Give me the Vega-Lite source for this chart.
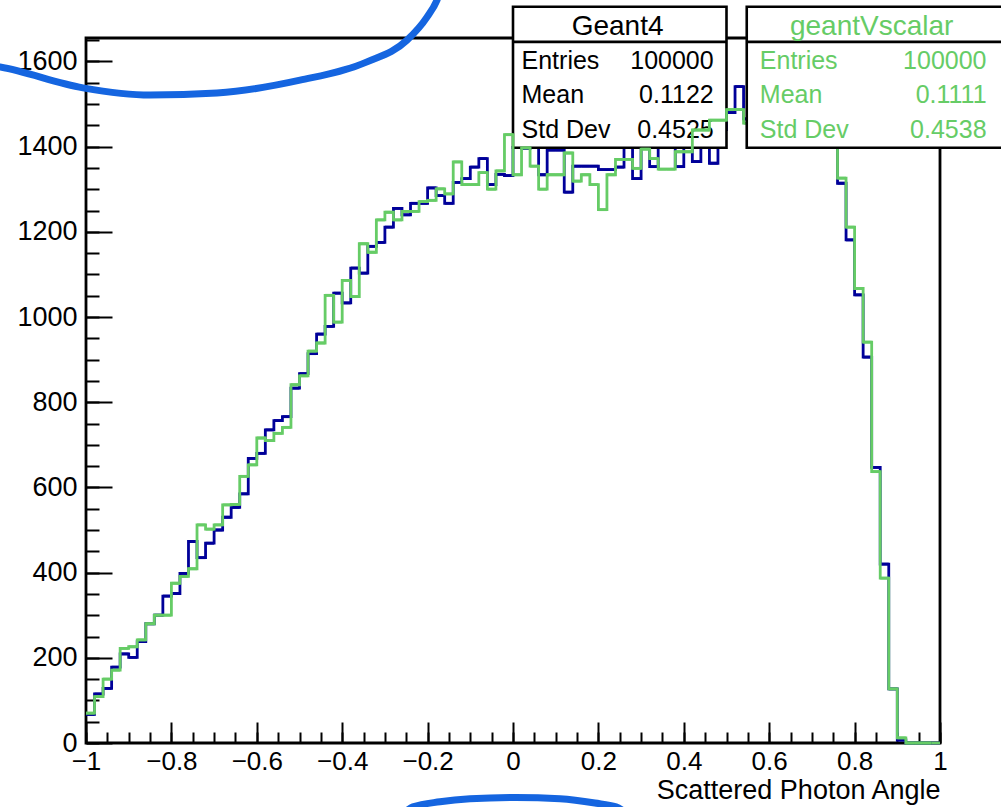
{
  "$schema": "https://vega.github.io/schema/vega-lite/v6.json",
  "autosize": {"type": "none"},
  "width": 854,
  "height": 705,
  "padding": {"left": 86, "top": 38, "right": 61, "bottom": 64},
  "background": "white",
  "config": {
    "view": {"stroke": "#000000", "strokeWidth": 2.8},
    "axis": {
      "domain": false, "grid": false, "tickColor": "#000000", "tickWidth": 2, "ticks": true,
      "labelFont": "Liberation Sans", "labelFontSize": 26, "labelColor": "#000000",
      "labelFlush": false, "labelOverlap": false,
      "titleFont": "Liberation Sans", "titleFontSize": 27, "titleFontWeight": "normal", "titleColor": "#000000"
    },
    "text": {"font": "Liberation Sans"}
  },
  "datasets": {
    "hist": [
      {"lo": -1.00, "hi": -0.98, "geant4": 67, "vscalar": 70},
      {"lo": -0.98, "hi": -0.96, "geant4": 115, "vscalar": 109},
      {"lo": -0.96, "hi": -0.94, "geant4": 128, "vscalar": 150},
      {"lo": -0.94, "hi": -0.92, "geant4": 178, "vscalar": 171},
      {"lo": -0.92, "hi": -0.90, "geant4": 209, "vscalar": 222},
      {"lo": -0.90, "hi": -0.88, "geant4": 201, "vscalar": 226},
      {"lo": -0.88, "hi": -0.86, "geant4": 238, "vscalar": 242},
      {"lo": -0.86, "hi": -0.84, "geant4": 280, "vscalar": 280},
      {"lo": -0.84, "hi": -0.82, "geant4": 300, "vscalar": 300},
      {"lo": -0.82, "hi": -0.80, "geant4": 345, "vscalar": 300},
      {"lo": -0.80, "hi": -0.78, "geant4": 351, "vscalar": 375},
      {"lo": -0.78, "hi": -0.76, "geant4": 398, "vscalar": 391},
      {"lo": -0.76, "hi": -0.74, "geant4": 473, "vscalar": 409},
      {"lo": -0.74, "hi": -0.72, "geant4": 435, "vscalar": 512},
      {"lo": -0.72, "hi": -0.70, "geant4": 469, "vscalar": 502},
      {"lo": -0.70, "hi": -0.68, "geant4": 500, "vscalar": 512},
      {"lo": -0.68, "hi": -0.66, "geant4": 530, "vscalar": 559},
      {"lo": -0.66, "hi": -0.64, "geant4": 553, "vscalar": 560},
      {"lo": -0.64, "hi": -0.62, "geant4": 585, "vscalar": 626},
      {"lo": -0.62, "hi": -0.60, "geant4": 668, "vscalar": 653},
      {"lo": -0.60, "hi": -0.58, "geant4": 680, "vscalar": 716},
      {"lo": -0.58, "hi": -0.56, "geant4": 735, "vscalar": 710},
      {"lo": -0.56, "hi": -0.54, "geant4": 757, "vscalar": 727},
      {"lo": -0.54, "hi": -0.52, "geant4": 766, "vscalar": 741},
      {"lo": -0.52, "hi": -0.50, "geant4": 833, "vscalar": 841},
      {"lo": -0.50, "hi": -0.48, "geant4": 867, "vscalar": 862},
      {"lo": -0.48, "hi": -0.46, "geant4": 914, "vscalar": 920},
      {"lo": -0.46, "hi": -0.44, "geant4": 960, "vscalar": 939},
      {"lo": -0.44, "hi": -0.42, "geant4": 978, "vscalar": 1051},
      {"lo": -0.42, "hi": -0.40, "geant4": 1056, "vscalar": 988},
      {"lo": -0.40, "hi": -0.38, "geant4": 1033, "vscalar": 1086},
      {"lo": -0.38, "hi": -0.36, "geant4": 1115, "vscalar": 1048},
      {"lo": -0.36, "hi": -0.34, "geant4": 1103, "vscalar": 1172},
      {"lo": -0.34, "hi": -0.32, "geant4": 1166, "vscalar": 1152},
      {"lo": -0.32, "hi": -0.30, "geant4": 1175, "vscalar": 1228},
      {"lo": -0.30, "hi": -0.28, "geant4": 1211, "vscalar": 1246},
      {"lo": -0.28, "hi": -0.26, "geant4": 1255, "vscalar": 1228},
      {"lo": -0.26, "hi": -0.24, "geant4": 1240, "vscalar": 1248},
      {"lo": -0.24, "hi": -0.22, "geant4": 1267, "vscalar": 1248},
      {"lo": -0.22, "hi": -0.20, "geant4": 1267, "vscalar": 1271},
      {"lo": -0.20, "hi": -0.18, "geant4": 1303, "vscalar": 1274},
      {"lo": -0.18, "hi": -0.16, "geant4": 1285, "vscalar": 1301},
      {"lo": -0.16, "hi": -0.14, "geant4": 1267, "vscalar": 1289},
      {"lo": -0.14, "hi": -0.12, "geant4": 1316, "vscalar": 1364},
      {"lo": -0.12, "hi": -0.10, "geant4": 1325, "vscalar": 1311},
      {"lo": -0.10, "hi": -0.08, "geant4": 1352, "vscalar": 1311},
      {"lo": -0.08, "hi": -0.06, "geant4": 1372, "vscalar": 1339},
      {"lo": -0.06, "hi": -0.04, "geant4": 1311, "vscalar": 1300},
      {"lo": -0.04, "hi": -0.02, "geant4": 1335, "vscalar": 1343},
      {"lo": -0.02, "hi": 0.00, "geant4": 1332, "vscalar": 1428},
      {"lo": 0.00, "hi": 0.02, "geant4": 1398, "vscalar": 1334},
      {"lo": 0.02, "hi": 0.04, "geant4": 1396, "vscalar": 1397},
      {"lo": 0.04, "hi": 0.06, "geant4": 1398, "vscalar": 1354},
      {"lo": 0.06, "hi": 0.08, "geant4": 1334, "vscalar": 1300},
      {"lo": 0.08, "hi": 0.10, "geant4": 1392, "vscalar": 1334},
      {"lo": 0.10, "hi": 0.12, "geant4": 1392, "vscalar": 1334},
      {"lo": 0.12, "hi": 0.14, "geant4": 1293, "vscalar": 1385},
      {"lo": 0.14, "hi": 0.16, "geant4": 1354, "vscalar": 1319},
      {"lo": 0.16, "hi": 0.18, "geant4": 1354, "vscalar": 1334},
      {"lo": 0.18, "hi": 0.20, "geant4": 1354, "vscalar": 1311},
      {"lo": 0.20, "hi": 0.22, "geant4": 1346, "vscalar": 1252},
      {"lo": 0.22, "hi": 0.24, "geant4": 1346, "vscalar": 1334},
      {"lo": 0.24, "hi": 0.26, "geant4": 1352, "vscalar": 1370},
      {"lo": 0.26, "hi": 0.28, "geant4": 1405, "vscalar": 1370},
      {"lo": 0.28, "hi": 0.30, "geant4": 1325, "vscalar": 1349},
      {"lo": 0.30, "hi": 0.32, "geant4": 1410, "vscalar": 1394},
      {"lo": 0.32, "hi": 0.34, "geant4": 1353, "vscalar": 1372},
      {"lo": 0.34, "hi": 0.36, "geant4": 1402, "vscalar": 1347},
      {"lo": 0.36, "hi": 0.38, "geant4": 1405, "vscalar": 1347},
      {"lo": 0.38, "hi": 0.40, "geant4": 1353, "vscalar": 1388},
      {"lo": 0.40, "hi": 0.42, "geant4": 1420, "vscalar": 1388},
      {"lo": 0.42, "hi": 0.44, "geant4": 1365, "vscalar": 1439},
      {"lo": 0.44, "hi": 0.46, "geant4": 1430, "vscalar": 1439},
      {"lo": 0.46, "hi": 0.48, "geant4": 1361, "vscalar": 1462},
      {"lo": 0.48, "hi": 0.50, "geant4": 1440, "vscalar": 1462},
      {"lo": 0.50, "hi": 0.52, "geant4": 1480, "vscalar": 1487},
      {"lo": 0.52, "hi": 0.54, "geant4": 1541, "vscalar": 1487},
      {"lo": 0.54, "hi": 0.56, "geant4": 1465, "vscalar": 1455},
      {"lo": 0.56, "hi": 0.58, "geant4": 1490, "vscalar": 1500},
      {"lo": 0.58, "hi": 0.60, "geant4": 1510, "vscalar": 1505},
      {"lo": 0.60, "hi": 0.62, "geant4": 1530, "vscalar": 1525},
      {"lo": 0.62, "hi": 0.64, "geant4": 1545, "vscalar": 1550},
      {"lo": 0.64, "hi": 0.66, "geant4": 1560, "vscalar": 1555},
      {"lo": 0.66, "hi": 0.68, "geant4": 1575, "vscalar": 1560},
      {"lo": 0.68, "hi": 0.70, "geant4": 1570, "vscalar": 1565},
      {"lo": 0.70, "hi": 0.72, "geant4": 1540, "vscalar": 1535},
      {"lo": 0.72, "hi": 0.74, "geant4": 1500, "vscalar": 1490},
      {"lo": 0.74, "hi": 0.76, "geant4": 1440, "vscalar": 1430},
      {"lo": 0.76, "hi": 0.78, "geant4": 1314, "vscalar": 1326},
      {"lo": 0.78, "hi": 0.80, "geant4": 1181, "vscalar": 1211},
      {"lo": 0.80, "hi": 0.82, "geant4": 1052, "vscalar": 1067},
      {"lo": 0.82, "hi": 0.84, "geant4": 906, "vscalar": 941},
      {"lo": 0.84, "hi": 0.86, "geant4": 647, "vscalar": 637},
      {"lo": 0.86, "hi": 0.88, "geant4": 420, "vscalar": 387},
      {"lo": 0.88, "hi": 0.90, "geant4": 127, "vscalar": 127},
      {"lo": 0.90, "hi": 0.92, "geant4": 7, "vscalar": 12},
      {"lo": 0.92, "hi": 0.94, "geant4": 0, "vscalar": 0},
      {"lo": 0.94, "hi": 0.96, "geant4": 0, "vscalar": 0},
      {"lo": 0.96, "hi": 0.98, "geant4": 0, "vscalar": 0},
      {"lo": 0.98, "hi": 1.00, "geant4": 0, "vscalar": 0}
    ],
    "stats": [
      {"hist": "Geant4", "stat": "Entries", "value": "100000"},
      {"hist": "Geant4", "stat": "Mean", "value": "0.1122"},
      {"hist": "Geant4", "stat": "Std Dev", "value": "0.4525"},
      {"hist": "geantVscalar", "stat": "Entries", "value": "100000"},
      {"hist": "geantVscalar", "stat": "Mean", "value": "0.1111"},
      {"hist": "geantVscalar", "stat": "Std Dev", "value": "0.4538"}
    ],
    "ink": [
      {"stroke": "top", "x": -1.2131, "y": 1589},
      {"stroke": "top", "x": -1.2014, "y": 1587},
      {"stroke": "top", "x": -1.0070, "y": 1538},
      {"stroke": "top", "x": -0.8501, "y": 1521},
      {"stroke": "top", "x": -0.6932, "y": 1526},
      {"stroke": "top", "x": -0.4988, "y": 1556},
      {"stroke": "top", "x": -0.3419, "y": 1599},
      {"stroke": "top", "x": -0.2482, "y": 1650},
      {"stroke": "top", "x": -0.2014, "y": 1704},
      {"stroke": "top", "x": -0.1780, "y": 1744},
      {"stroke": "top", "x": -0.1710, "y": 1763},
      {"stroke": "bottom", "x": -0.2529, "y": -162},
      {"stroke": "bottom", "x": -0.2342, "y": -150},
      {"stroke": "bottom", "x": -0.1710, "y": -138},
      {"stroke": "bottom", "x": -0.1007, "y": -131},
      {"stroke": "bottom", "x": 0.0070, "y": -128},
      {"stroke": "bottom", "x": 0.1101, "y": -131},
      {"stroke": "bottom", "x": 0.1920, "y": -141},
      {"stroke": "bottom", "x": 0.2412, "y": -150},
      {"stroke": "bottom", "x": 0.2623, "y": -162}
    ]
  },
  "resolve": {"axis": {"x": "independent", "y": "independent"}},
  "layer": [
    {
      "data": {"name": "hist"},
      "mark": {"type": "line", "interpolate": "step-after", "color": "#000099", "strokeWidth": 2.8},
      "encoding": {
        "x": {"field": "lo", "type": "quantitative",
          "scale": {"domain": [-1, 1], "nice": false, "zero": false},
          "axis": {"orient": "bottom", "values": [-1, -0.8, -0.6, -0.4, -0.2, 0, 0.2, 0.4, 0.6, 0.8, 1],
            "format": "~g", "offset": -21, "tickSize": 21, "labelPadding": 5, "title": "Scattered Photon Angle",
            "titleAnchor": "end", "titlePadding": 3}},
        "y": {"field": "geant4", "type": "quantitative",
          "scale": {"domain": [0, 1655], "nice": false, "zero": false},
          "axis": {"orient": "left", "values": [0, 200, 400, 600, 800, 1000, 1200, 1400, 1600],
            "format": "d", "offset": -26, "tickSize": 26, "labelPadding": 9, "labelFontSize": 27, "title": null}}
      }
    },
    {
      "data": {"name": "hist"},
      "mark": {"type": "rule", "color": "#000099", "strokeWidth": 2.8},
      "encoding": {
        "x": {"field": "lo", "type": "quantitative",
          "axis": {"orient": "bottom", "values": [-1, -0.95, -0.9, -0.85, -0.8, -0.75, -0.7, -0.65, -0.6, -0.55, -0.5, -0.45, -0.4, -0.35, -0.3, -0.25, -0.2, -0.15, -0.1, -0.05, 0, 0.05, 0.1, 0.15, 0.2, 0.25, 0.3, 0.35, 0.4, 0.45, 0.5, 0.55, 0.6, 0.65, 0.7, 0.75, 0.8, 0.85, 0.9, 0.95, 1],
            "offset": -11, "tickSize": 11, "labels": false, "title": null}},
        "x2": {"field": "hi"},
        "y": {"field": "geant4", "type": "quantitative",
          "axis": {"orient": "left", "values": [0, 50, 100, 150, 200, 250, 300, 350, 400, 450, 500, 550, 600, 650, 700, 750, 800, 850, 900, 950, 1000, 1050, 1100, 1150, 1200, 1250, 1300, 1350, 1400, 1450, 1500, 1550, 1600, 1650],
            "offset": -13, "tickSize": 13, "labels": false, "title": null}}
      }
    },
    {
      "data": {"name": "stats"},
      "transform": [{"filter": "datum.hist === 'Geant4' && datum.stat === 'Entries'"}],
      "mark": {"type": "rect", "fill": "white", "stroke": "#000000", "strokeWidth": 2.6},
      "encoding": {
        "x": {"datum": 0, "axis": null}, "x2": {"datum": 0.5},
        "y": {"datum": 1397.5, "axis": null}, "y2": {"datum": 1728.5}
      }
    },
    {
      "data": {"name": "stats"},
      "transform": [{"filter": "datum.hist === 'Geant4' && datum.stat === 'Entries'"}],
      "mark": {"type": "rule", "color": "#000000", "strokeWidth": 2.6},
      "encoding": {
        "x": {"datum": 0, "axis": null}, "x2": {"datum": 0.5},
        "y": {"datum": 1646, "axis": null}
      }
    },
    {
      "data": {"name": "stats"},
      "transform": [{"filter": "datum.hist === 'Geant4' && datum.stat === 'Entries'"}],
      "mark": {"type": "text", "fontSize": 28, "align": "center", "baseline": "middle", "color": "#000000"},
      "encoding": {"x": {"datum": 0.245, "axis": null}, "y": {"datum": 1681, "axis": null}, "text": {"field": "hist"}}
    },
    {
      "data": {"name": "stats"},
      "transform": [{"filter": "datum.hist === 'Geant4' && datum.stat === 'Entries'"}],
      "mark": {"type": "text", "fontSize": 25, "align": "left", "baseline": "middle", "color": "#000000"},
      "encoding": {"x": {"datum": 0.02, "axis": null}, "y": {"datum": 1602, "axis": null}, "text": {"field": "stat"}}
    },
    {
      "data": {"name": "stats"},
      "transform": [{"filter": "datum.hist === 'Geant4' && datum.stat === 'Entries'"}],
      "mark": {"type": "text", "fontSize": 25, "align": "right", "baseline": "middle", "color": "#000000"},
      "encoding": {"x": {"datum": 0.47, "axis": null}, "y": {"datum": 1602, "axis": null}, "text": {"field": "value"}}
    },
    {
      "data": {"name": "stats"},
      "transform": [{"filter": "datum.hist === 'Geant4' && datum.stat === 'Mean'"}],
      "mark": {"type": "text", "fontSize": 25, "align": "left", "baseline": "middle", "color": "#000000"},
      "encoding": {"x": {"datum": 0.02, "axis": null}, "y": {"datum": 1521, "axis": null}, "text": {"field": "stat"}}
    },
    {
      "data": {"name": "stats"},
      "transform": [{"filter": "datum.hist === 'Geant4' && datum.stat === 'Mean'"}],
      "mark": {"type": "text", "fontSize": 25, "align": "right", "baseline": "middle", "color": "#000000"},
      "encoding": {"x": {"datum": 0.47, "axis": null}, "y": {"datum": 1521, "axis": null}, "text": {"field": "value"}}
    },
    {
      "data": {"name": "stats"},
      "transform": [{"filter": "datum.hist === 'Geant4' && datum.stat === 'Std Dev'"}],
      "mark": {"type": "text", "fontSize": 25, "align": "left", "baseline": "middle", "color": "#000000"},
      "encoding": {"x": {"datum": 0.02, "axis": null}, "y": {"datum": 1438, "axis": null}, "text": {"field": "stat"}}
    },
    {
      "data": {"name": "stats"},
      "transform": [{"filter": "datum.hist === 'Geant4' && datum.stat === 'Std Dev'"}],
      "mark": {"type": "text", "fontSize": 25, "align": "right", "baseline": "middle", "color": "#000000"},
      "encoding": {"x": {"datum": 0.47, "axis": null}, "y": {"datum": 1438, "axis": null}, "text": {"field": "value"}}
    },
    {
      "data": {"name": "hist"},
      "mark": {"type": "line", "interpolate": "step-after", "color": "#66cc66", "strokeWidth": 2.8},
      "encoding": {
        "x": {"field": "lo", "type": "quantitative", "axis": null},
        "y": {"field": "vscalar", "type": "quantitative", "axis": null}
      }
    },
    {
      "data": {"name": "hist"},
      "mark": {"type": "rule", "color": "#66cc66", "strokeWidth": 2.8},
      "encoding": {
        "x": {"field": "lo", "type": "quantitative", "axis": null},
        "x2": {"field": "hi"},
        "y": {"field": "vscalar", "type": "quantitative", "axis": null}
      }
    },
    {
      "data": {"name": "stats"},
      "transform": [{"filter": "datum.hist === 'geantVscalar' && datum.stat === 'Entries'"}],
      "mark": {"type": "rect", "fill": "white", "stroke": "#000000", "strokeWidth": 2.6},
      "encoding": {
        "x": {"datum": 0.5474, "axis": null}, "x2": {"datum": 1.2},
        "y": {"datum": 1397.5, "axis": null}, "y2": {"datum": 1728.5}
      }
    },
    {
      "data": {"name": "stats"},
      "transform": [{"filter": "datum.hist === 'geantVscalar' && datum.stat === 'Entries'"}],
      "mark": {"type": "rule", "color": "#000000", "strokeWidth": 2.6},
      "encoding": {
        "x": {"datum": 0.5474, "axis": null}, "x2": {"datum": 1.2},
        "y": {"datum": 1646, "axis": null}
      }
    },
    {
      "data": {"name": "stats"},
      "transform": [{"filter": "datum.hist === 'geantVscalar' && datum.stat === 'Entries'"}],
      "mark": {"type": "text", "fontSize": 28, "align": "center", "baseline": "middle", "color": "#66cc66"},
      "encoding": {"x": {"datum": 0.84, "axis": null}, "y": {"datum": 1681, "axis": null}, "text": {"field": "hist"}}
    },
    {
      "data": {"name": "stats"},
      "transform": [{"filter": "datum.hist === 'geantVscalar' && datum.stat === 'Entries'"}],
      "mark": {"type": "text", "fontSize": 25, "align": "left", "baseline": "middle", "color": "#66cc66"},
      "encoding": {"x": {"datum": 0.578, "axis": null}, "y": {"datum": 1602, "axis": null}, "text": {"field": "stat"}}
    },
    {
      "data": {"name": "stats"},
      "transform": [{"filter": "datum.hist === 'geantVscalar' && datum.stat === 'Entries'"}],
      "mark": {"type": "text", "fontSize": 25, "align": "right", "baseline": "middle", "color": "#66cc66"},
      "encoding": {"x": {"datum": 1.109, "axis": null}, "y": {"datum": 1602, "axis": null}, "text": {"field": "value"}}
    },
    {
      "data": {"name": "stats"},
      "transform": [{"filter": "datum.hist === 'geantVscalar' && datum.stat === 'Mean'"}],
      "mark": {"type": "text", "fontSize": 25, "align": "left", "baseline": "middle", "color": "#66cc66"},
      "encoding": {"x": {"datum": 0.578, "axis": null}, "y": {"datum": 1521, "axis": null}, "text": {"field": "stat"}}
    },
    {
      "data": {"name": "stats"},
      "transform": [{"filter": "datum.hist === 'geantVscalar' && datum.stat === 'Mean'"}],
      "mark": {"type": "text", "fontSize": 25, "align": "right", "baseline": "middle", "color": "#66cc66"},
      "encoding": {"x": {"datum": 1.109, "axis": null}, "y": {"datum": 1521, "axis": null}, "text": {"field": "value"}}
    },
    {
      "data": {"name": "stats"},
      "transform": [{"filter": "datum.hist === 'geantVscalar' && datum.stat === 'Std Dev'"}],
      "mark": {"type": "text", "fontSize": 25, "align": "left", "baseline": "middle", "color": "#66cc66"},
      "encoding": {"x": {"datum": 0.578, "axis": null}, "y": {"datum": 1438, "axis": null}, "text": {"field": "stat"}}
    },
    {
      "data": {"name": "stats"},
      "transform": [{"filter": "datum.hist === 'geantVscalar' && datum.stat === 'Std Dev'"}],
      "mark": {"type": "text", "fontSize": 25, "align": "right", "baseline": "middle", "color": "#66cc66"},
      "encoding": {"x": {"datum": 1.109, "axis": null}, "y": {"datum": 1438, "axis": null}, "text": {"field": "value"}}
    },
    {
      "data": {"name": "ink"},
      "mark": {"type": "line", "color": "#1565e0", "strokeWidth": 7, "strokeCap": "round", "interpolate": "monotone"},
      "encoding": {
        "x": {"field": "x", "type": "quantitative", "axis": null},
        "y": {"field": "y", "type": "quantitative", "axis": null},
        "detail": {"field": "stroke"}
      }
    }
  ]
}
